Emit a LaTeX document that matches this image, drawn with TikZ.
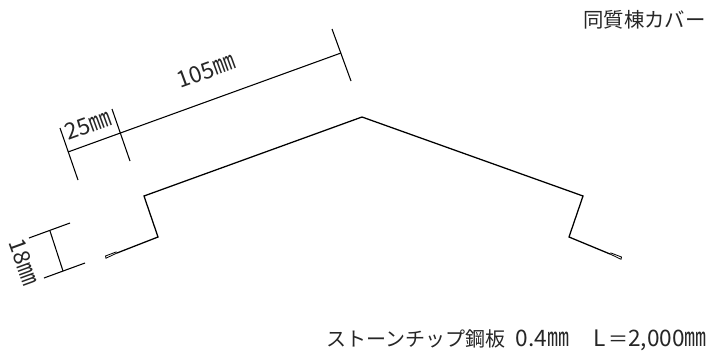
\documentclass[tikz,border=0pt]{standalone}
\usepackage{fontspec}
\setmainfont{Noto Sans CJK JP}[Scale=1]
\newcommand{\dg}[1]{{\fontsize{17}{17}\selectfont #1}}
\newcommand{\mm}{\scalebox{1.1}[1.3]{\fontsize{15}{15}\selectfont ㎜}}
\tikzset{
  line/.style={draw=black,line width=0.95pt,line join=miter},
  thin line/.style={draw=black,line width=0.8pt},
  hem/.style={draw=black,line width=0.6pt},
  lab/.style={inner sep=0pt,text=black!85,font=\fontsize{15.3}{15}\selectfont},
  dimlab/.style={inner sep=0pt,text=black!85}
}
\begin{document}
\begin{tikzpicture}[x=0.75pt,y=-0.75pt]
\useasboundingbox (0,0) rectangle (723,356);
% profile
\coordinate (h1) at (117,253);
\coordinate (a) at (158,237);
\coordinate (b) at (144,196);
\coordinate (top) at (362,117);
\coordinate (c) at (583,196);
\coordinate (d) at (569,237);
\coordinate (h2) at (610,254);
\coordinate (h1a) at (105.5,256);
\coordinate (h1b) at (116.5,251.8);
\coordinate (h1c) at (106,258.2);
\coordinate (h2a) at (621.5,257);
\coordinate (h2b) at (610.5,252.8);
\coordinate (h2c) at (621,259.3);
\draw[line] (h1) -- (a) -- (b) -- (top) -- (c) -- (d) -- (h2);
\draw[hem] (h1b) -- (h1a) -- (h1c) -- (h1);
\draw[hem] (h2b) -- (h2a) -- (h2c) -- (h2);
% dimensions top
\coordinate (t1s) at (60,128); \coordinate (t1e) at (78,180);
\coordinate (t2s) at (112,109); \coordinate (t2e) at (130,161);
\coordinate (t3s) at (332,29); \coordinate (t3e) at (351,81);
\coordinate (l1) at (68,152); \coordinate (l2) at (341,53);
\draw[thin line] (t1s) -- (t1e);
\draw[thin line] (t2s) -- (t2e);
\draw[thin line] (t3s) -- (t3e);
\draw[thin line] (l1) -- (l2);
% dimension 18
\coordinate (u1s) at (29,238); \coordinate (u1e) at (70,223);
\coordinate (u2s) at (44,278); \coordinate (u2e) at (85,263);
\coordinate (u3) at (50,231); \coordinate (u4) at (63,271);
\draw[thin line] (u1s) -- (u1e);
\draw[thin line] (u2s) -- (u2e);
\draw[thin line] (u3) -- (u4);
% labels
\node[dimlab,rotate=20] (d25) at (88,125) {\dg{25}\mm};
\node[dimlab,rotate=20] (d105) at (206,71) {\dg{105}\mm};
\node[dimlab,rotate=-70] (d18) at (24,262) {\dg{18}\mm};
\node[lab,anchor=east] (title) at (706,20) {同質棟カバー};
\node[lab,anchor=east,font=\fontsize{15}{15}\selectfont] (spec) at (707,340) {ストーンチップ鋼板\hspace{8pt}\dg{0.4}\mm\hspace{18pt}\dg{L}\hspace{2pt}＝\dg{2,000}\mm};
\end{tikzpicture}
\end{document}
